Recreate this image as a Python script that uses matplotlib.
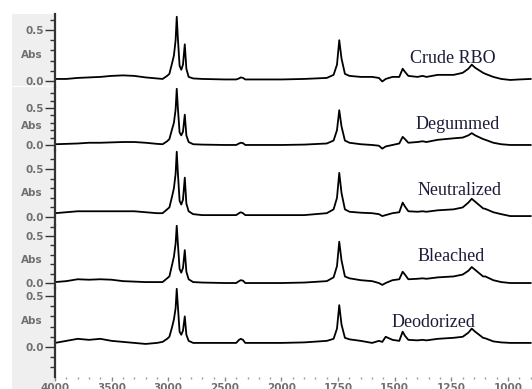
import numpy as np
import matplotlib
matplotlib.use('Agg')
import matplotlib.pyplot as plt
from matplotlib.patches import Rectangle
from matplotlib.ticker import FixedLocator

# wavenumber grid (cm-1) shared by all five spectra
wn = [4000, 3900, 3800, 3700, 3600, 3500, 3400, 3300, 3200, 3100, 3050, 3010, 2990,
      2965, 2950, 2935, 2925, 2915, 2900, 2885, 2870, 2854, 2840, 2820, 2780, 2700,
      2500, 2400, 2375, 2360, 2340, 2320, 2200, 2000, 1900, 1800, 1770, 1755, 1745,
      1735, 1720, 1700, 1650, 1600, 1570, 1555, 1540, 1510, 1480, 1465, 1455, 1440,
      1400, 1377, 1360, 1310, 1240, 1200, 1175, 1160, 1145, 1110, 1100, 1065, 1030,
      990, 950, 900]

crude = [0.02, 0.02, 0.03, 0.035, 0.04, 0.05, 0.055, 0.05, 0.035, 0.025, 0.02, 0.05, 0.07,
         0.18, 0.25, 0.40, 0.63, 0.42, 0.15, 0.11, 0.16, 0.36, 0.12, 0.04, 0.025, 0.02,
         0.015, 0.015, 0.025, 0.035, 0.03, 0.015, 0.015, 0.015, 0.02, 0.03, 0.06, 0.16, 0.40,
         0.22, 0.07, 0.05, 0.04, 0.04, 0.03, -0.005, 0.02, 0.04, 0.04, 0.12, 0.09, 0.05,
         0.04, 0.05, 0.04, 0.06, 0.06, 0.08, 0.12, 0.16, 0.13, 0.08, 0.07, 0.04, 0.02,
         0.01, 0.015, 0.02]

degummed = [0.01, 0.015, 0.02, 0.03, 0.03, 0.035, 0.04, 0.04, 0.03, 0.015, 0.01, 0.05, 0.08,
            0.22, 0.30, 0.48, 0.76, 0.50, 0.17, 0.13, 0.18, 0.41, 0.13, 0.04, 0.01, 0.005,
            0.0, 0.0, 0.02, 0.03, 0.025, 0.0, 0.0, 0.0, 0.005, 0.02, 0.06, 0.20, 0.47,
            0.25, 0.06, 0.03, 0.01, 0.0, -0.01, -0.05, -0.02, 0.0, 0.02, 0.11, 0.08, 0.03,
            0.04, 0.05, 0.04, 0.07, 0.09, 0.10, 0.13, 0.16, 0.13, 0.08, 0.07, 0.03, 0.01,
            0.0, 0.0, 0.0]

neutralized = [0.04, 0.05, 0.06, 0.06, 0.06, 0.06, 0.06, 0.06, 0.05, 0.04, 0.04, 0.08, 0.10,
               0.22, 0.30, 0.45, 0.68, 0.46, 0.17, 0.13, 0.18, 0.41, 0.14, 0.06, 0.03, 0.02,
               0.02, 0.02, 0.04, 0.05, 0.04, 0.02, 0.02, 0.02, 0.02, 0.04, 0.08, 0.20, 0.46,
               0.25, 0.08, 0.055, 0.045, 0.04, 0.03, 0.01, 0.02, 0.04, 0.05, 0.15, 0.11, 0.06,
               0.055, 0.06, 0.055, 0.07, 0.08, 0.10, 0.15, 0.19, 0.16, 0.09, 0.085, 0.05, 0.03,
               0.01, 0.01, 0.01]

bleached = [0.01, 0.02, 0.04, 0.035, 0.04, 0.035, 0.02, 0.015, 0.01, 0.01, 0.01, 0.05, 0.07,
            0.20, 0.28, 0.42, 0.61, 0.42, 0.15, 0.11, 0.16, 0.35, 0.12, 0.04, 0.01, 0.005,
            0.0, 0.0, 0.02, 0.03, 0.025, 0.0, 0.0, 0.0, 0.005, 0.02, 0.06, 0.18, 0.44,
            0.24, 0.07, 0.05, 0.03, 0.02, 0.0, -0.02, 0.0, 0.03, 0.04, 0.12, 0.09, 0.04,
            0.045, 0.05, 0.045, 0.06, 0.07, 0.09, 0.13, 0.17, 0.14, 0.07, 0.07, 0.03, 0.01,
            0.0, 0.0, 0.0]

deodorized = [0.04, 0.06, 0.08, 0.07, 0.08, 0.06, 0.05, 0.04, 0.03, 0.04, 0.05, 0.08, 0.10,
              0.20, 0.27, 0.38, 0.57, 0.40, 0.15, 0.12, 0.16, 0.30, 0.12, 0.06, 0.04, 0.04,
              0.04, 0.04, 0.07, 0.08, 0.07, 0.04, 0.04, 0.04, 0.045, 0.06, 0.08, 0.18, 0.41,
              0.22, 0.09, 0.075, 0.06, 0.04, 0.06, 0.05, 0.10, 0.07, 0.06, 0.15, 0.11, 0.07,
              0.065, 0.07, 0.065, 0.08, 0.09, 0.10, 0.14, 0.18, 0.15, 0.09, 0.085, 0.055, 0.045,
              0.04, 0.04, 0.04]

spectra = [crude, degummed, neutralized, bleached, deodorized]
names = ['Crude RBO', 'Degummed', 'Neutralized', 'Bleached', 'Deodorized']
xtick_vals = [4000, 3500, 3000, 2500, 2000, 1750, 1500, 1250, 1000]

# panel layout in pixels (top, bottom) and y limits per panel
panel_px = [(14, 87), (87, 150), (150, 225), (225, 288), (288, 377)]
ylims = [(-0.059, 0.657), (-0.068, 0.784), (-0.083, 0.698), (-0.053, 0.617), (-0.294, 0.578)]
name_px = [(410, 63), (416, 129), (418, 195), (418, 261), (392, 327)]

W, H = 532, 389
lab_col = '#707070'
spine_col = '#333333'


def fwd(w):
    # spectrometer style axis: region below 2000 cm-1 is expanded 2x
    w = np.asarray(w, dtype=float)
    return np.where(w < 2000, 2 * w - 2000, w)


def inv(u):
    u = np.asarray(u, dtype=float)
    return np.where(u < 2000, (u + 2000) / 2, u)


fig = plt.figure(figsize=(W / 100, H / 100), dpi=100)
fig.patches.append(Rectangle((12 / W, 0), 43 / W, (H - 87) / H, transform=fig.transFigure,
                             facecolor='#efefef', edgecolor='none', zorder=-5))
fig.patches.append(Rectangle((12 / W, (H - 86) / H), 43 / W, 72 / H, transform=fig.transFigure,
                             facecolor='#efefef', edgecolor='none', zorder=-5))

axes = []
for i in range(5):
    top, bot = panel_px[i]
    ax = fig.add_axes([55 / W, (H - bot) / H, (W - 55) / W, (bot - top) / H],
                      sharex=axes[0] if axes else None)
    ax.patch.set_alpha(0)
    ax.set_xscale('function', functions=(fwd, inv))
    ax.plot(wn, spectra[i], color='black', lw=1.3, solid_joinstyle='round')
    ax.set_ylim(*ylims[i])
    for s in ['top', 'right', 'bottom']:
        ax.spines[s].set_visible(False)
    ax.spines['left'].set_color(spine_col)
    ax.spines['left'].set_linewidth(1.6)
    ax.set_yticks([0.0, 0.5])
    ax.set_yticklabels(['0.0', '0.5'])
    lo, hi = ylims[i]
    minors = [round(v, 1) for v in np.arange(-0.3, 0.8, 0.1)
              if lo <= v <= hi and abs(v) > 1e-9 and abs(v - 0.5) > 1e-9]
    ax.yaxis.set_minor_locator(FixedLocator(minors))
    ax.tick_params(axis='y', which='major', length=7, width=1, color=spine_col, pad=1,
                   labelsize=7.5, labelcolor=lab_col)
    ax.tick_params(axis='y', which='minor', length=3.5, width=1, color=spine_col)
    for t in ax.get_yticklabels():
        t.set_fontweight('bold')
    ax.text(-0.025, 0.25, 'Abs', transform=ax.get_yaxis_transform(), ha='right', va='center',
            fontsize=7.5, fontweight='bold', color=lab_col)
    axes.append(ax)

axes[0].set_xlim(4000, 894)
for ax in axes[:-1]:
    ax.tick_params(axis='x', which='both', bottom=False, labelbottom=False)

axb = axes[-1]
axb.set_xticks(xtick_vals)
axb.set_xticklabels([str(v) for v in xtick_vals])
minor_x = [v for v in range(3900, 2000, -100) if v % 500] + [v for v in range(1950, 850, -50) if v % 250]
axb.xaxis.set_minor_locator(FixedLocator(minor_x))
axb.tick_params(axis='x', which='major', length=3, width=1, color='#888888', pad=1,
                labelsize=7.5, labelcolor=lab_col)
axb.tick_params(axis='x', which='minor', length=1.5, width=1, color='#999999')
for t in axb.get_xticklabels():
    t.set_fontweight('bold')

for i, name in enumerate(names):
    x, y = name_px[i]
    fig.text(x / W, 1 - y / H, name, family='Liberation Serif', fontsize=13,
             color='#1c1c3a', ha='left', va='baseline')

fig.savefig('out.png', dpi=100)
